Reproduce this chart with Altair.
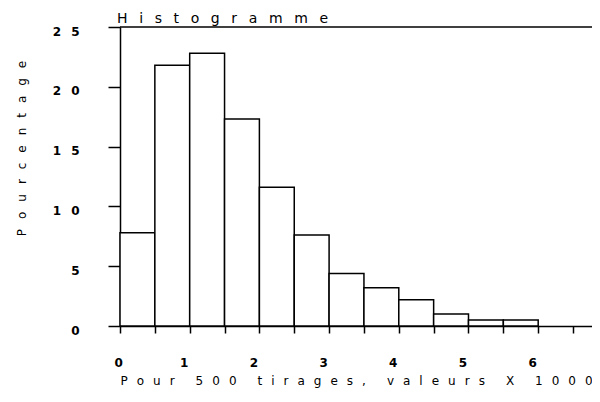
import altair as alt
import pandas as pd

# ---- data ----
bin_start = [0.0, 0.5, 1.0, 1.5, 2.0, 2.5, 3.0, 3.5, 4.0, 4.5, 5.0, 5.5]
bin_width = 0.5
percent = [7.8, 21.8, 22.8, 17.3, 11.6, 7.6, 4.4, 3.2, 2.2, 1.0, 0.5, 0.5]

x_tick_values = [0.0, 0.5, 1.0, 1.5, 2.0, 2.5, 3.0, 3.5, 4.0, 4.5, 5.0, 5.5, 6.0, 6.5]
y_tick_values = [0, 2.5, 5, 7.5, 10, 12.5, 15, 17.5, 20, 22.5, 25]
y_top = [25]

title_text = "Histogramme"
y_title_text = "Pourcentage"
x_title_text = "Pour 500 tirages, valeurs X 1000"

GAP = "\u2002\u2004"          # wide letter gap (bitmap-font look)
X_GAP = "\u2002\u2005"
X_WORD_GAP = "\u2002\u2005\u2003"


def spaced(s, gap=GAP, word_gap=GAP + "\u2003"):
    return word_gap.join(gap.join(w) for w in s.split(" "))


df = pd.DataFrame({
    "start": bin_start,
    "end": [b + bin_width for b in bin_start],
    "pct": percent,
})
top_df = pd.DataFrame({"top": y_top})

FONT = "DejaVu Sans"

x_scale = alt.Scale(domain=[0, 6.772], nice=False, zero=False)
y_scale = alt.Scale(domain=[0, 25], nice=False)

bars = alt.Chart(df).mark_rect(
    fill="white", stroke="black", strokeWidth=1.5
).encode(
    x=alt.X(
        "start:Q",
        scale=x_scale,
        axis=alt.Axis(
            values=x_tick_values,
            labelExpr="datum.value % 1 === 0 ? format(datum.value, 'd') : ''",
            labelOverlap=False,
            labelFont=FONT,
            labelFontSize=12,
            labelFontWeight="bold",
            labelColor="black",
            labelPadding=24,
            labelOffset=-6,
            tickSize=7,
            tickWidth=1.5,
            tickColor="black",
            domainColor="black",
            domainWidth=1.5,
            grid=False,
            title=spaced(x_title_text, X_GAP, X_WORD_GAP),
            titleFont=FONT,
            titleFontSize=12,
            titleFontWeight="normal",
            titleColor="black",
            titleX=0,
            titleY=58,
            titleAlign="left",
            titleBaseline="alphabetic",
        ),
    ),
    x2="end:Q",
    y=alt.Y(
        "pct:Q",
        scale=y_scale,
        axis=alt.Axis(
            values=y_tick_values,
            labelExpr="datum.value % 5 === 0 ? join(split(format(datum.value, 'd'), ''), '" + GAP + "') : ''",
            labelOverlap=False,
            labelFont=FONT,
            labelFontSize=12,
            labelFontWeight="bold",
            labelColor="black",
            labelPadding=29,
            labelBaseline="middle",
            labelOffset=4,
            tickSize={"condition": {"test": "datum.value % 5 === 0", "value": 12}, "value": 5},
            tickWidth=1.5,
            tickColor="black",
            domainColor="black",
            domainWidth=1.5,
            grid=False,
            title=spaced(y_title_text),
            titleFont=FONT,
            titleFontSize=12,
            titleFontWeight="normal",
            titleColor="black",
            titleAngle=270,
            titleX=-95,
            titleY=121,
            titleAlign="center",
            titleBaseline="alphabetic",
        ),
    ),
    y2=alt.datum(0),
)

top_line = alt.Chart(top_df).mark_rule(color="black", strokeWidth=1.5).encode(
    y=alt.Y("top:Q", scale=y_scale)
)

chart = alt.layer(bars, top_line).properties(
    width=472,
    height=299,
    autosize=alt.AutoSizeParams(type="none"),
    padding={"left": 112, "top": 19, "right": 0, "bottom": 62},
    title=alt.TitleParams(
        text=spaced(title_text, gap="\u2002\u2004"),
        anchor="start",
        frame="group",
        offset=-12,
        dx=-3,
        baseline="alphabetic",
        font=FONT,
        fontSize=14,
        fontWeight="normal",
        color="black",
    ),
).configure_view(stroke=None)

chart.save("out.html", embed_options={"renderer": "svg", "actions": False})
